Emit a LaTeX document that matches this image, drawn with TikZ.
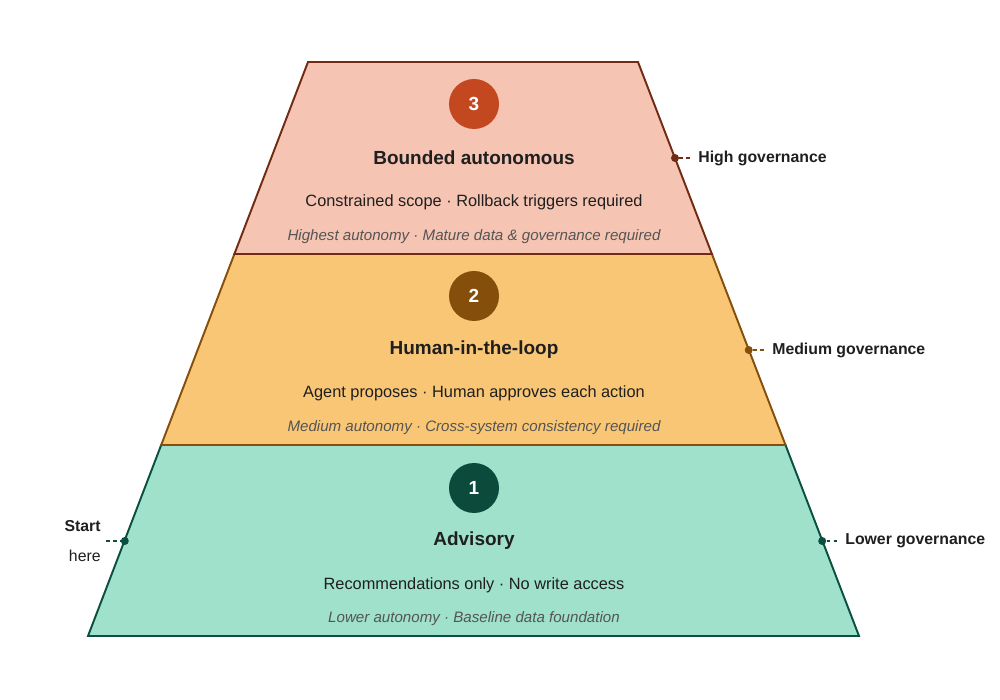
\documentclass[tikz,border=0pt]{standalone}
\usepackage{fontspec}
\setmainfont{Liberation Sans}
\definecolor{ink}{HTML}{1F1F1F}
\definecolor{mute}{HTML}{555555}
\definecolor{hifill}{HTML}{F5C4B3}
\definecolor{hiedge}{HTML}{712B13}
\definecolor{hidot}{HTML}{C4481F}
\definecolor{mdfill}{HTML}{F9C676}
\definecolor{mdedge}{HTML}{854F0B}
\definecolor{lofill}{HTML}{9FE1CB}
\definecolor{loedge}{HTML}{0A4F40}
\definecolor{lodot}{HTML}{0C4A3C}

\begin{document}
\begin{tikzpicture}[x=0.2mm, y=-0.2mm,
      every node/.style={text=ink},
      tier/.style={line width=1.1pt, line join=miter},
      badge/.style={circle, minimum size=10mm, inner sep=0pt, text=white,
        font=\fontsize{10.8}{12}\selectfont\bfseries},
      title/.style={font=\fontsize{10.8}{12}\selectfont\bfseries},
      desc/.style={font=\fontsize{9.3}{11}\selectfont},
      note/.style={font=\fontsize{8.6}{10}\selectfont\itshape, text=mute},
      side/.style={anchor=west, inner sep=1mm, font=\fontsize{9}{11}\selectfont\bfseries},
      pin/.style={circle, inner sep=0pt, minimum size=1.6mm, fill=#1},
      tick/.style={dash pattern=on 2pt off 2pt, line width=0.6pt},
    ]
    \useasboundingbox (0,0) rectangle (1000,700);

    % Tiers, bottom up
    \filldraw[tier, fill=lofill, draw=loedge]
      (88,636) -- (161.2,445) -- (785.5,445) -- (859,636) -- cycle;
    \filldraw[tier, fill=mdfill, draw=mdedge]
      (161.2,445) -- (234.4,254) -- (711.9,254) -- (785.5,445) -- cycle;
    \filldraw[tier, fill=hifill, draw=hiedge]
      (234.4,254) -- (308,62) -- (638,62) -- (711.9,254) -- cycle;

    % Tier 3
    \node[badge, fill=hidot] (b3) at (474,104) {3};
    \node[title] (t3) at (474,158) {Bounded autonomous};
    \node[desc]  (d3) at (474,202) {Constrained scope · Rollback triggers required};
    \node[note]  (n3) at (474,237) {Highest autonomy · Mature data \& governance required};

    % Tier 2
    \node[badge, fill=mdedge] (b2) at (474,296) {2};
    \node[title] (t2) at (474,350) {Human-in-the-loop};
    \node[desc]  (d2) at (474,393) {Agent proposes · Human approves each action};
    \node[note]  (n2) at (474,428) {Medium autonomy · Cross-system consistency required};

    % Tier 1
    \node[badge, fill=lodot] (b1) at (474,488) {1};
    \node[title] (t1) at (474,541) {Advisory};
    \node[desc]  (d1) at (474,585) {Recommendations only · No write access};
    \node[note]  (n1) at (474,619) {Lower autonomy · Baseline data foundation};

    % Governance markers
    \node[pin=hiedge] (p3) at (675,158) {};
    \node[side] (g3) at (693,158) {High governance};
    \draw[tick, hiedge] (p3) -- (g3.west);

    \node[pin=mdedge] (p2) at (748.7,350) {};
    \node[side] (g2) at (767,350) {Medium governance};
    \draw[tick, mdedge] (p2) -- (g2.west);

    \node[pin=loedge] (p1) at (822.2,541) {};
    \node[side] (g1) at (840,541) {Lower governance};
    \draw[tick, loedge] (p1) -- (g1.west);

    % Entry point
    \node[pin=loedge] (p0) at (124.8,541) {};
    \node[anchor=east, inner sep=1mm, align=right,
      font=\fontsize{9}{17}\selectfont] (start) at (106,541)
      {\textbf{Start}\\here};
    \draw[tick, loedge] (start.east) -- (p0);
  \end{tikzpicture}
\end{document}
